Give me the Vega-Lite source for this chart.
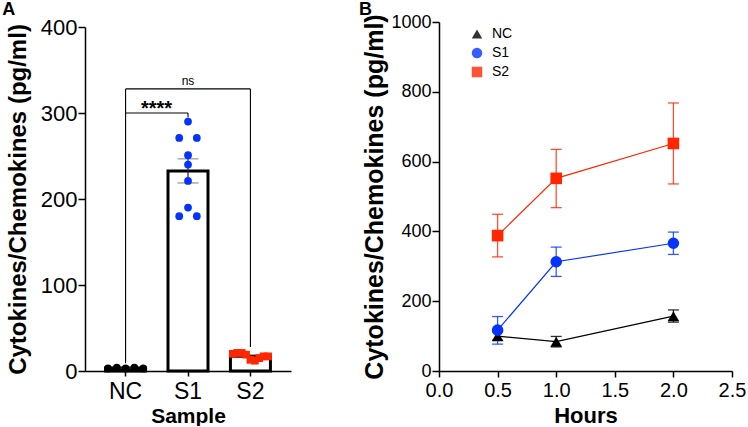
{
  "$schema": "https://vega.github.io/schema/vega-lite/v6.json",
  "padding": {"left": 2, "top": 0, "right": 0, "bottom": 0},
  "spacing": 67,
  "resolve": {"scale": {"color": "independent", "shape": "independent"}, "legend": {"color": "independent", "shape": "independent"}},
  "config": {
    "font": "Liberation Sans",
    "view": {"stroke": null},
    "axis": {
      "grid": false,
      "domainColor": "black",
      "domainWidth": 1.5,
      "tickColor": "black",
      "tickWidth": 1.5,
      "labelColor": "black",
      "titleColor": "black",
      "titleFontWeight": "bold"
    },
    "title": {"color": "black", "fontWeight": "bold", "fontSize": 18, "anchor": "start", "frame": "bounds"}
  },
  "datasets": {
    "samples": [
      {"sample": "NC", "slot": -4, "value": 3},
      {"sample": "NC", "slot": -2, "value": 4},
      {"sample": "NC", "slot": 0, "value": 3},
      {"sample": "NC", "slot": 2, "value": 4},
      {"sample": "NC", "slot": 4, "value": 3},
      {"sample": "S1", "slot": 0, "value": 290},
      {"sample": "S1", "slot": -2, "value": 271},
      {"sample": "S1", "slot": 2, "value": 271},
      {"sample": "S1", "slot": 0, "value": 251},
      {"sample": "S1", "slot": 0, "value": 240},
      {"sample": "S1", "slot": 0, "value": 221},
      {"sample": "S1", "slot": 0, "value": 190},
      {"sample": "S1", "slot": -2, "value": 180},
      {"sample": "S1", "slot": 2, "value": 180},
      {"sample": "S2", "slot": -4, "value": 20},
      {"sample": "S2", "slot": -3, "value": 21},
      {"sample": "S2", "slot": -2, "value": 21},
      {"sample": "S2", "slot": -1, "value": 19},
      {"sample": "S2", "slot": 0, "value": 13},
      {"sample": "S2", "slot": 1, "value": 12},
      {"sample": "S2", "slot": 2, "value": 15},
      {"sample": "S2", "slot": 3, "value": 17},
      {"sample": "S2", "slot": 4, "value": 17}
    ],
    "brackets": [
      {"from": "NC", "to": "NC", "top": 328, "bottom": 9},
      {"from": "NC", "to": "S2", "top": 328, "bottom": 328},
      {"from": "S2", "to": "S2", "top": 328, "bottom": 28},
      {"from": "NC", "to": "S1", "top": 300, "bottom": 300},
      {"from": "S1", "to": "S1", "top": 300, "bottom": 295}
    ],
    "stars": [{"sample": "NC", "value": 300, "label": "****"}],
    "ns": [{"sample": "S1", "value": 328, "label": "ns"}],
    "timecourse": [
      {"group": "NC", "hours": 0.5, "mean": 100, "lo": 88, "hi": 112},
      {"group": "NC", "hours": 1.0, "mean": 84, "lo": 69, "hi": 99},
      {"group": "NC", "hours": 2.0, "mean": 157, "lo": 140, "hi": 175},
      {"group": "S1", "hours": 0.5, "mean": 117, "lo": 77, "hi": 156},
      {"group": "S1", "hours": 1.0, "mean": 313, "lo": 271, "hi": 355},
      {"group": "S1", "hours": 2.0, "mean": 366, "lo": 334, "hi": 398},
      {"group": "S2", "hours": 0.5, "mean": 388, "lo": 327, "hi": 449},
      {"group": "S2", "hours": 1.0, "mean": 552, "lo": 468, "hi": 635},
      {"group": "S2", "hours": 2.0, "mean": 652, "lo": 536, "hi": 768}
    ]
  },
  "hconcat": [
    {
      "title": {"text": "A", "offset": -2.5, "dx": -4},
      "width": 206,
      "height": 349,
      "data": {"name": "samples"},
      "encoding": {
        "x": {
          "field": "sample",
          "type": "nominal",
          "sort": ["NC", "S1", "S2"],
          "scale": {"paddingInner": 0.36, "paddingOuter": 0.33},
          "title": "Sample",
          "axis": {"labelAngle": 0, "labelFontSize": 23, "labelPadding": 4, "tickSize": 5, "titleFontSize": 21, "titlePadding": 2}
        }
      },
      "layer": [
        {
          "mark": {"type": "bar", "fill": "white", "stroke": "black", "strokeWidth": 3, "width": 40},
          "encoding": {
            "y": {
              "aggregate": "mean",
              "field": "value",
              "type": "quantitative",
              "scale": {"domain": [0, 400], "range": [349, 5]},
              "title": "Cytokines/Chemokines (pg/ml)",
              "axis": {"values": [0, 100, 200, 300, 400], "labelFontSize": 22, "labelPadding": 1, "tickSize": 7, "titleFontSize": 24, "titlePadding": 10}
            }
          }
        },
        {
          "mark": {"type": "errorbar", "extent": "stderr", "ticks": {"size": 21, "color": "#444", "strokeWidth": 1.5}, "rule": {"color": "#222", "strokeWidth": 1.2}},
          "encoding": {"y": {"field": "value", "type": "quantitative", "title": "Cytokines/Chemokines (pg/ml)"}}
        },
        {
          "mark": {"type": "point", "filled": true, "size": 60, "opacity": 1},
          "encoding": {
            "xOffset": {"field": "slot", "type": "ordinal", "scale": {"type": "point", "domain": [-4, -3, -2, -1, 0, 1, 2, 3, 4], "range": [2.4, 37.6], "padding": 0}},
            "y": {"field": "value", "type": "quantitative", "title": "Cytokines/Chemokines (pg/ml)"},
            "shape": {"field": "sample", "type": "nominal", "scale": {"domain": ["NC", "S1", "S2"], "range": ["circle", "circle", "square"]}, "legend": null},
            "color": {"field": "sample", "type": "nominal", "scale": {"domain": ["NC", "S1", "S2"], "range": ["black", "#0433ff", "#ff2600"]}, "legend": null}
          }
        },
        {
          "data": {"name": "brackets"},
          "mark": {"type": "rule", "color": "black", "strokeWidth": 1.1},
          "encoding": {
            "x": {"field": "from", "type": "nominal"},
            "x2": {"field": "to"},
            "y": {"field": "top", "type": "quantitative", "title": "Cytokines/Chemokines (pg/ml)"},
            "y2": {"field": "bottom"}
          }
        },
        {
          "data": {"name": "stars"},
          "mark": {"type": "text", "fontSize": 20, "fontWeight": "bold", "baseline": "alphabetic", "dx": 31, "dy": 2, "fill": "black"},
          "encoding": {
            "x": {"field": "sample", "type": "nominal"},
            "y": {"field": "value", "type": "quantitative", "title": "Cytokines/Chemokines (pg/ml)"},
            "text": {"field": "label"}
          }
        },
        {
          "data": {"name": "ns"},
          "mark": {"type": "text", "fontSize": 12, "baseline": "alphabetic", "dy": -4, "fill": "black"},
          "encoding": {
            "x": {"field": "sample", "type": "nominal"},
            "y": {"field": "value", "type": "quantitative", "title": "Cytokines/Chemokines (pg/ml)"},
            "text": {"field": "label"}
          }
        }
      ]
    },
    {
      "title": {"text": "B", "offset": -5.5, "dx": -4},
      "width": 293,
      "height": 349,
      "data": {"name": "timecourse"},
      "encoding": {
        "x": {
          "field": "hours",
          "type": "quantitative",
          "scale": {"domain": [0, 2.5]},
          "title": "Hours",
          "axis": {"values": [0, 0.5, 1, 1.5, 2, 2.5], "format": ".1f", "labelFlush": false, "labelFontSize": 20, "labelPadding": 3, "tickSize": 6, "titleFontSize": 22, "titlePadding": 5}
        },
        "color": {
          "field": "group",
          "type": "nominal",
          "scale": {"domain": ["NC", "S1", "S2"], "range": ["black", "#0433ff", "#ff2600"]},
          "legend": {"title": null, "orient": "none", "legendX": 31, "legendY": 5, "padding": 0, "labelFontSize": 14, "symbolSize": 110, "rowPadding": 5, "labelOffset": 8, "symbolStrokeWidth": 0}
        }
      },
      "layer": [
        {
          "mark": {"type": "line", "strokeWidth": 1.2},
          "encoding": {
            "y": {
              "field": "mean",
              "type": "quantitative",
              "scale": {"domain": [0, 1000]},
              "title": "Cytokines/Chemokines (pg/ml)",
              "axis": {"values": [0, 200, 400, 600, 800, 1000], "format": "d", "labelFontSize": 18, "labelPadding": 1, "tickSize": 7, "titleFontSize": 25, "titlePadding": 3}
            }
          }
        },
        {
          "mark": {"type": "errorbar", "ticks": {"size": 11}, "thickness": 1.3, "opacity": 0.8},
          "encoding": {
            "y": {"field": "lo", "type": "quantitative", "title": "Cytokines/Chemokines (pg/ml)"},
            "y2": {"field": "hi"}
          }
        },
        {
          "mark": {"type": "point", "filled": true, "size": 135, "opacity": 1},
          "encoding": {
            "y": {"field": "mean", "type": "quantitative", "title": "Cytokines/Chemokines (pg/ml)"},
            "shape": {
              "field": "group",
              "type": "nominal",
              "scale": {"domain": ["NC", "S1", "S2"], "range": ["triangle-up", "circle", "square"]},
              "legend": {"title": null, "orient": "none", "legendX": 31, "legendY": 5, "padding": 0, "labelFontSize": 14, "symbolSize": 110, "rowPadding": 5, "labelOffset": 8, "symbolStrokeWidth": 0}
            }
          }
        }
      ]
    }
  ]
}
